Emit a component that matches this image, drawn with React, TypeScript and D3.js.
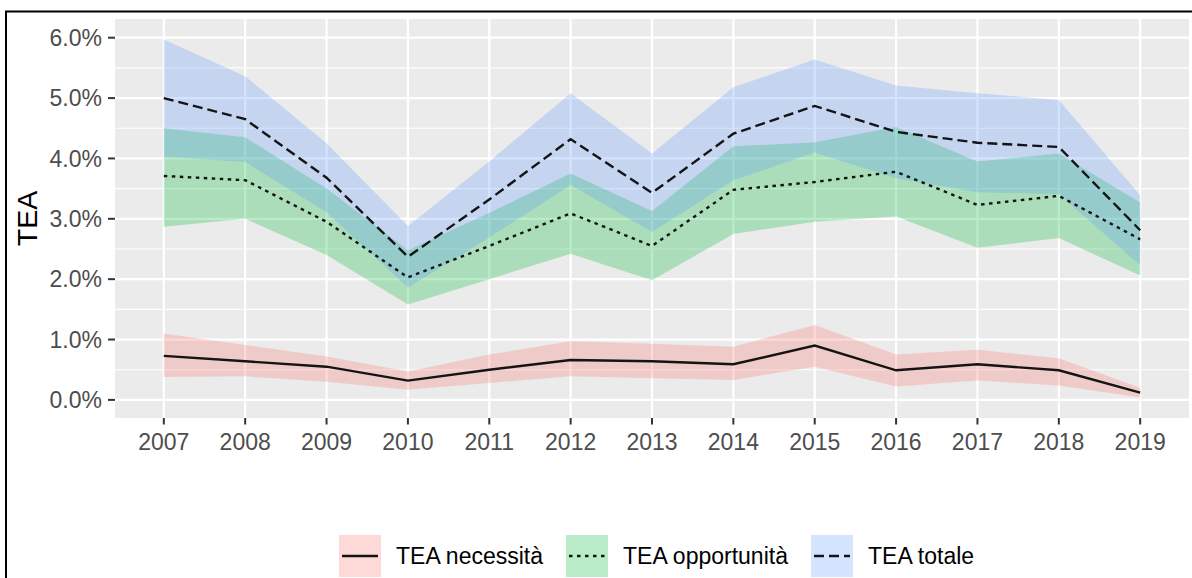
import React from "react";
import * as d3 from "d3";

const years = [2007, 2008, 2009, 2010, 2011, 2012, 2013, 2014, 2015, 2016, 2017, 2018, 2019];

const necessitaMean = [0.73, 0.64, 0.55, 0.32, 0.5, 0.66, 0.64, 0.59, 0.9, 0.49, 0.59, 0.49, 0.12];
const necessitaLow = [0.38, 0.39, 0.3, 0.17, 0.28, 0.39, 0.36, 0.33, 0.55, 0.22, 0.32, 0.24, 0.04];
const necessitaHigh = [1.1, 0.91, 0.72, 0.47, 0.75, 0.97, 0.93, 0.88, 1.24, 0.75, 0.83, 0.69, 0.2];

const opportunitaMean = [3.71, 3.64, 2.95, 2.03, 2.55, 3.09, 2.55, 3.48, 3.61, 3.78, 3.23, 3.38, 2.66];
const opportunitaLow = [2.87, 3.0, 2.4, 1.58, 2.0, 2.42, 1.98, 2.75, 2.95, 3.04, 2.52, 2.68, 2.06];
const opportunitaHigh = [4.5, 4.35, 3.5, 2.48, 3.1, 3.75, 3.13, 4.2, 4.27, 4.52, 3.95, 4.08, 3.27];

const totaleMean = [5.0, 4.65, 3.68, 2.37, 3.32, 4.32, 3.43, 4.41, 4.87, 4.44, 4.26, 4.19, 2.81];
const totaleLow = [4.03, 3.94, 3.11, 1.86, 2.69, 3.56, 2.78, 3.64, 4.1, 3.67, 3.44, 3.41, 2.23];
const totaleHigh = [5.97, 5.36, 4.25, 2.88, 3.95, 5.08, 4.08, 5.18, 5.64, 5.21, 5.08, 4.97, 3.39];

const yTicks = [0, 1, 2, 3, 4, 5, 6];
const yTickLabels = ["0.0%", "1.0%", "2.0%", "3.0%", "4.0%", "5.0%", "6.0%"];
const yMinor = [0.5, 1.5, 2.5, 3.5, 4.5, 5.5];

const seriesNames = ["TEA necessità", "TEA opportunità", "TEA totale"];
const seriesFills = ["#F8766D", "#00BA38", "#619CFF"];
const seriesDash = ["none", "3.5,4.5", "10,5"];

const W = 1192;
const H = 578;
const P = { left: 115, right: 1189, top: 19, bottom: 418 };
const FONT = "'Liberation Sans', Arial, sans-serif";
const ALPHA = 0.27;

export default function App() {
  const x = d3.scaleLinear().domain([2006.4, 2019.6]).range([P.left, P.right]);
  const y = d3.scaleLinear().domain([-0.3, 6.31]).range([P.bottom, P.top]);

  const series = [
    { mean: necessitaMean, low: necessitaLow, high: necessitaHigh },
    { mean: opportunitaMean, low: opportunitaLow, high: opportunitaHigh },
    { mean: totaleMean, low: totaleLow, high: totaleHigh },
  ];

  const area = (s: any) =>
    d3
      .area<number>()
      .x((d) => x(d))
      .y0((_, i) => y(s.low[i]))
      .y1((_, i) => y(s.high[i]))(years) as string;
  const line = (s: any) =>
    d3
      .line<number>()
      .x((d) => x(d))
      .y((_, i) => y(s.mean[i]))(years) as string;

  const legendKeys = [339, 566, 811];
  const keySize = 42;
  const keyTop = 535;

  return (
    <svg
      width={W}
      height={H}
      style={{ position: "fixed", left: 0, top: 0, background: "#fff" }}
      fontFamily={FONT}
    >
      <rect x={0} y={0} width={W} height={H} fill="#fff" />
      <rect x={6} y={11.5} width={1200} height={700} fill="none" stroke="#000" strokeWidth={2} />
      <rect x={P.left} y={P.top} width={P.right - P.left} height={P.bottom - P.top} fill="#EBEBEB" />
      {yMinor.map((v) => (
        <line key={"mi" + v} x1={P.left} x2={P.right} y1={y(v)} y2={y(v)} stroke="#fff" strokeWidth={1.1} />
      ))}
      {yTicks.map((v) => (
        <line key={"ma" + v} x1={P.left} x2={P.right} y1={y(v)} y2={y(v)} stroke="#fff" strokeWidth={2.2} />
      ))}
      {years.map((yr) => (
        <line key={"vx" + yr} x1={x(yr)} x2={x(yr)} y1={P.top} y2={P.bottom} stroke="#fff" strokeWidth={2.2} />
      ))}
      {series.map((s, i) => (
        <path key={"a" + i} d={area(s)} fill={seriesFills[i]} fillOpacity={ALPHA} stroke="none" />
      ))}
      {series.map((s, i) => (
        <path
          key={"l" + i}
          d={line(s)}
          fill="none"
          stroke="#141414"
          strokeWidth={2.4}
          strokeDasharray={seriesDash[i]}
        />
      ))}
      {yTicks.map((v, i) => (
        <g key={"yt" + v}>
          <line x1={108} x2={P.left} y1={y(v)} y2={y(v)} stroke="#333" strokeWidth={2} />
          <text x={102} y={y(v)} dy="0.36em" textAnchor="end" fontSize={23} fill="#4D4D4D">
            {yTickLabels[i]}
          </text>
        </g>
      ))}
      {years.map((yr) => (
        <g key={"xt" + yr}>
          <line x1={x(yr)} x2={x(yr)} y1={P.bottom} y2={P.bottom + 6.5} stroke="#333" strokeWidth={2} />
          <text x={x(yr)} y={449.5} textAnchor="middle" fontSize={23} fill="#4D4D4D">
            {yr}
          </text>
        </g>
      ))}
      <text
        transform={`translate(37, ${(P.top + P.bottom) / 2}) rotate(-90)`}
        textAnchor="middle"
        fontSize={28.5}
        fill="#000"
      >
        TEA
      </text>
      {seriesNames.map((name, i) => (
        <g key={"lg" + i}>
          <rect x={legendKeys[i]} y={keyTop} width={keySize} height={keySize} fill="#fff" />
          <rect
            x={legendKeys[i]}
            y={keyTop}
            width={keySize}
            height={keySize}
            fill={seriesFills[i]}
            fillOpacity={ALPHA}
          />
          <line
            x1={legendKeys[i] + 3}
            x2={legendKeys[i] + keySize - 3}
            y1={keyTop + keySize / 2}
            y2={keyTop + keySize / 2}
            stroke="#141414"
            strokeWidth={2.4}
            strokeDasharray={seriesDash[i]}
          />
          <text x={legendKeys[i] + keySize + 15} y={keyTop + keySize / 2} dy="0.36em" fontSize={23} fill="#000">
            {name}
          </text>
        </g>
      ))}
    </svg>
  );
}
